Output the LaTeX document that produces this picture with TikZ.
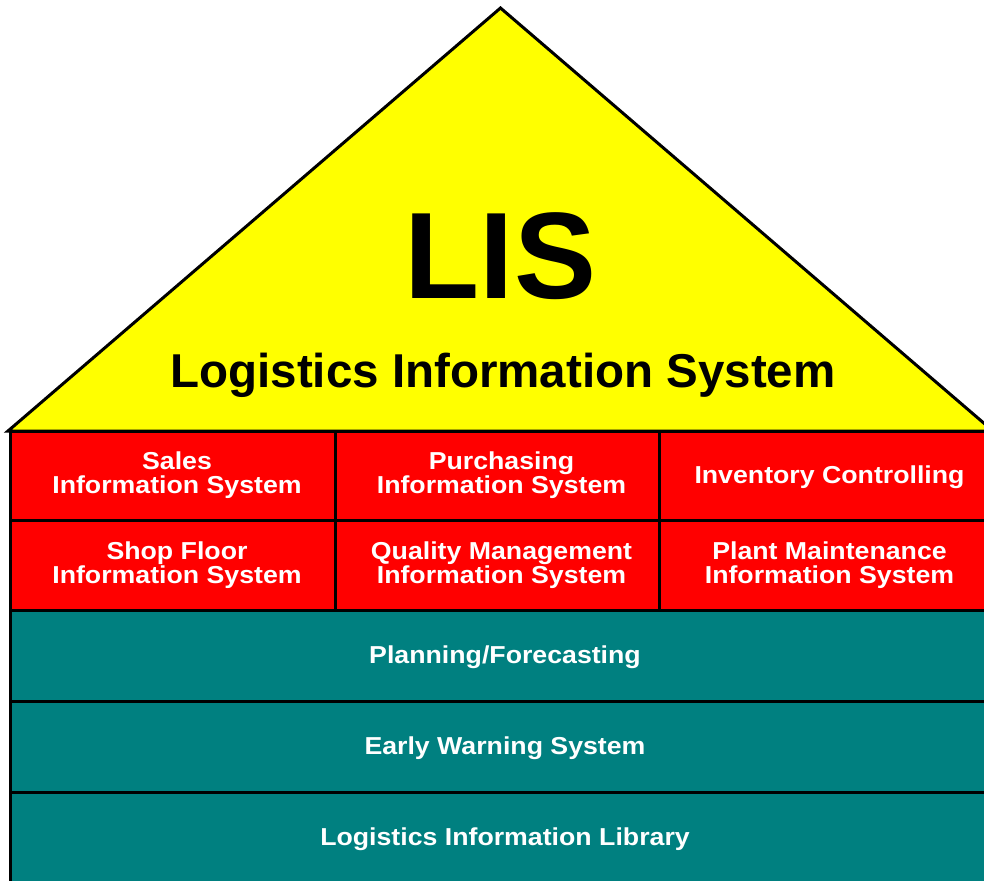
\documentclass[tikz,border=0pt]{standalone}
\usepackage{fontspec}
\setmainfont{Liberation Sans}
\newfontfamily\boxfont[FakeStretch=1.09]{Liberation Sans}
\definecolor{lisred}{HTML}{FF0000}
\definecolor{listeal}{HTML}{008080}
\definecolor{lisyellow}{HTML}{FFFF00}
\newcommand\lispad{\hspace*{9pt}}
\tikzset{
  tilebox/.style={draw=black, line width=3pt, inner sep=0pt, align=center, text=white,
    font=\boxfont\bfseries\fontsize{24.5}{24}\selectfont},
  oneline/.style={text height=18pt, text depth=2pt},
  redbox/.style={tilebox, fill=lisred},
  tealbox/.style={tilebox, oneline, fill=listeal},
}
\begin{document}
\begin{tikzpicture}[x=1pt,y=-1pt]
\useasboundingbox (0,0) rectangle (984,880);
\clip (0,0) rectangle (984,880);
% roof
\path[fill=lisyellow, draw=black, line width=3pt] (8,431) -- (500.5,8) -- (993,431) -- cycle;
\node[anchor=base, inner sep=0pt, font=\bfseries\fontsize{123}{123}\selectfont] (lis) at (500.5,298) {LIS};
\node[anchor=base, inner sep=0pt, font=\bfseries\fontsize{47.5}{47.5}\selectfont] (title) at (503,387) {Logistics Information System};
% red tiles
\node[redbox, minimum width=325, minimum height=89] (sales) at (172.5,475.5) {\lispad Sales\\\lispad Information System};
\node[redbox, minimum width=324, minimum height=89] (purch) at (497,475.5) {\lispad Purchasing\\\lispad Information System};
\node[redbox, oneline, minimum width=341, minimum height=89] (inv) at (829.5,475.5) {Inventory Controlling};
\node[redbox, minimum width=325, minimum height=90] (shop) at (172.5,565) {\lispad Shop Floor\\\lispad Information System};
\node[redbox, minimum width=324, minimum height=90] (qual) at (497,565) {\lispad Quality Management\\\lispad Information System};
\node[redbox, minimum width=341, minimum height=90] (plant) at (829.5,565) {Plant Maintenance\\Information System};
% teal layers
\node[tealbox, minimum width=990, minimum height=91] (plan) at (505,655.5) {Planning/Forecasting};
\node[tealbox, minimum width=990, minimum height=91] (early) at (505,746.5) {Early Warning System};
\node[tealbox, minimum width=990, minimum height=90] (lib) at (505,837) {Logistics Information Library};
\end{tikzpicture}
\end{document}
